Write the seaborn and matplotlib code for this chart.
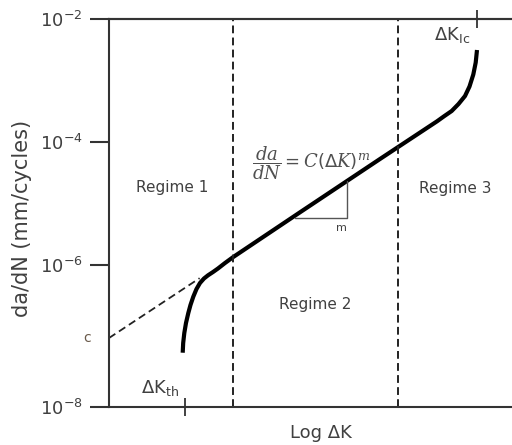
import matplotlib
matplotlib.use("Agg")
import matplotlib.pyplot as plt
import seaborn as sns
import pandas as pd

# ---- data (schematic units: x 0-100.5, y 0-100) ----
curve_x = [18.38, 18.50, 18.78, 19.20, 19.78, 20.32, 21.02, 21.82, 22.69, 23.69,
           24.69, 25.94, 27.18, 28.93, 30.92, 47.63, 67.58, 81.80, 83.54, 85.46,
           87.16, 88.78, 89.90, 90.85, 91.45, 91.77]
curve_y = [13.99, 16.49, 19.07, 21.65, 24.23, 26.29, 28.43, 30.41, 31.96, 33.12,
           33.94, 34.79, 35.70, 37.11, 38.61, 50.18, 63.92, 73.63, 74.92, 76.29,
           78.09, 80.15, 82.60, 85.70, 88.79, 92.01]
extrap_x = [0.0, 22.6]
extrap_y = [17.78, 33.2]
regime_bounds = [30.92, 72.07]
tri_x = [46.38, 59.35, 59.35]
tri_y = [48.71, 48.71, 58.2]
ytick_pos = [100, 68.3, 36.6, 0]
ytick_labels = [r'$\mathrm{10}^{\mathrm{-2}}$', r'$\mathrm{10}^{\mathrm{-4}}$',
                r'$\mathrm{10}^{\mathrm{-6}}$', r'$\mathrm{10}^{\mathrm{-8}}$']
kth_x = [18.95]
kic_x = [91.77]
c_level = 17.78
regime_labels = ["Regime 1", "Regime 2", "Regime 3"]
regime_x = [15.71, 51.37, 86.28]
regime_y = [56.7, 26.3, 56.44]

sns.set_theme(style="white")
plt.rcParams['font.family'] = ['DejaVu Sans']
plt.rcParams['mathtext.fontset'] = 'custom'
plt.rcParams['mathtext.rm'] = 'DejaVu Sans'
plt.rcParams['mathtext.it'] = 'DejaVu Serif:italic'
plt.rcParams['mathtext.bf'] = 'DejaVu Sans:bold'
plt.rcParams['axes.unicode_minus'] = False

TXT = '#404040'
SP = '#333333'

fig = plt.figure(figsize=(5.12, 4.45), dpi=100)
ax = fig.add_axes([109/512, 38/445, 403/512, 388/445])

df = pd.DataFrame({"x": curve_x, "y": curve_y})
sns.lineplot(data=df, x="x", y="y", sort=False, color='black', lw=3.0, ax=ax,
             solid_capstyle='butt', solid_joinstyle='round')
ax.plot(extrap_x, extrap_y, color='#222222', lw=1.3, dashes=(4.2, 2.4), clip_on=False)
for xb in regime_bounds:
    ax.axvline(xb, color='#222222', lw=1.4, dashes=(4.0, 2.2))
ax.plot(tri_x, tri_y, color='#555555', lw=1.0)

ax.set_xlim(0, 100.5)
ax.set_ylim(0, 100)

for s in ['left', 'top', 'bottom']:
    ax.spines[s].set_visible(True)
    ax.spines[s].set_linewidth(1.5)
    ax.spines[s].set_color(SP)
ax.spines['right'].set_visible(False)

ax.set_yticks(ytick_pos)
ax.set_yticklabels(ytick_labels)
ax.tick_params(axis='y', left=True, length=14, width=1.5, color=SP, pad=5,
               labelsize=13, labelcolor=TXT)
ax.set_xticks(kth_x)
ax.set_xticklabels([''])
ax.tick_params(axis='x', bottom=True, direction='inout', length=13, width=1.3, color=SP)

sec = ax.secondary_xaxis('top')
sec.set_xticks(kic_x)
sec.set_xticklabels([''])
sec.tick_params(axis='x', top=True, direction='inout', length=13, width=1.3, color=SP)
sec.spines['top'].set_linewidth(1.5)
sec.spines['top'].set_color(SP)

ax.set_xlabel('Log ΔK', fontsize=13, color=TXT)
ax.xaxis.set_label_coords((321 - 109) / 403, -(433 - 407) / 388)
ax.xaxis.label.set_va('center')
ax.set_ylabel('da/dN (mm/cycles)', fontsize=15, color=TXT)
ax.yaxis.set_label_coords(-(109 - 22) / 403, (407 - 218) / 388)
ax.yaxis.label.set_va('center')

for lab, xx, yy in zip(regime_labels, regime_x, regime_y):
    ax.text(xx, yy, lab, ha='center', va='center', fontsize=11, color=TXT)

ax.text(50.4, 62.9, r'$\dfrac{da}{dN} = C(\Delta K)^m$', ha='center', va='center',
        fontsize=13, color='#505050')
ax.text(57.9, 46.1, 'm', ha='center', va='center', fontsize=8, color=TXT)
ax.text(12.7, 4.9, r'ΔK$_{\mathrm{th}}$', ha='center', va='center', fontsize=13, color=TXT)
ax.text(85.5, 95.9, r'ΔK$_{\mathrm{Ic}}$', ha='center', va='center', fontsize=13, color=TXT)
ax.text(-5.5, c_level, 'c', ha='center', va='center', fontsize=10, color='#6a5a4a',
        clip_on=False)

fig.savefig('out.png', dpi=100)
